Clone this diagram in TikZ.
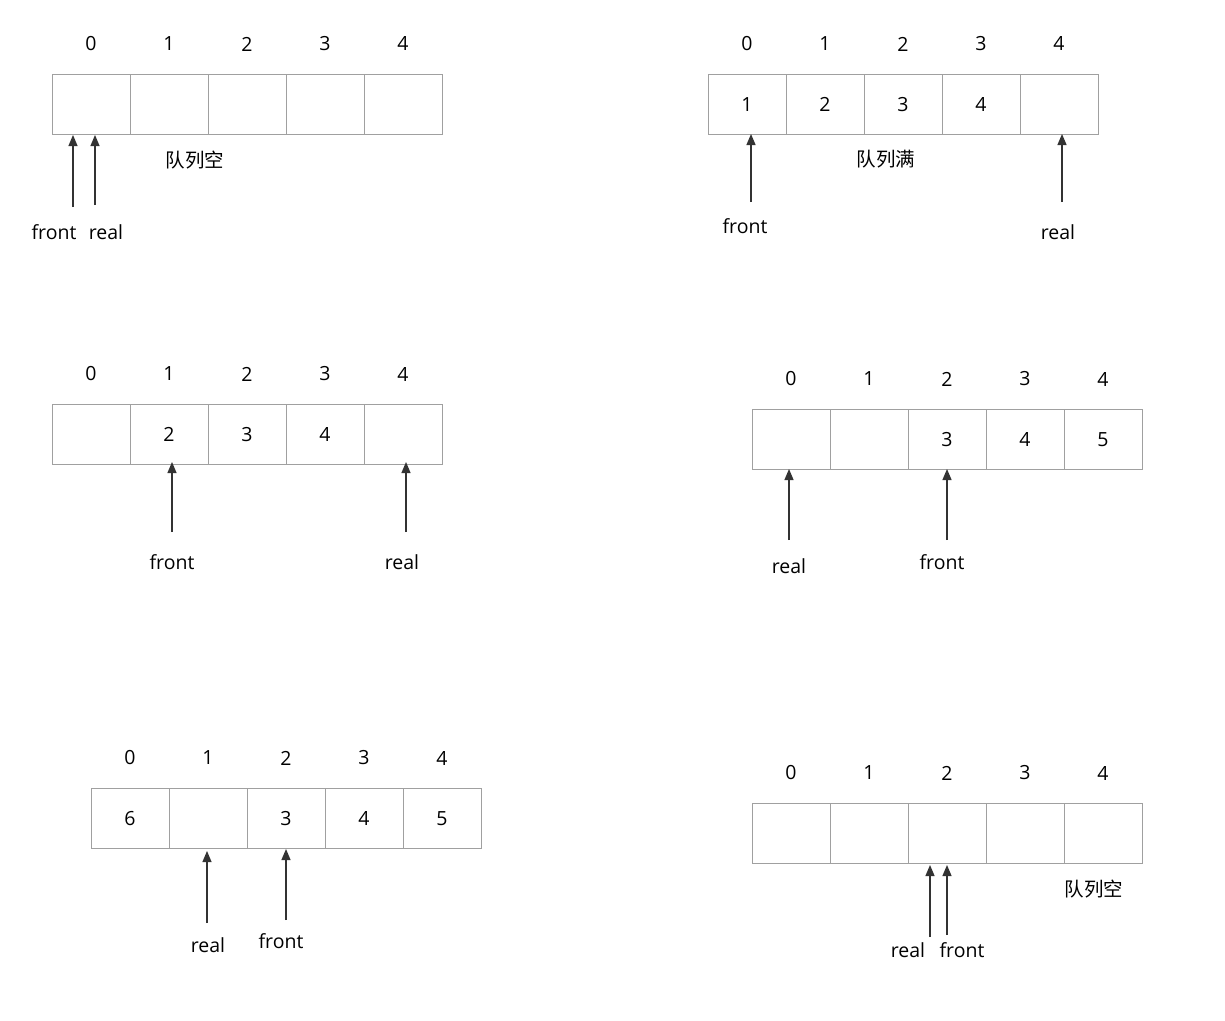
\documentclass[tikz,border=0pt]{standalone}
\usepackage{fontspec}
\setmainfont{Open Sans}
\newfontfamily\cjk{Noto Sans CJK SC}
\usetikzlibrary{arrows.meta}
\definecolor{cellgray}{HTML}{A0A0A0}
\definecolor{ink}{HTML}{333333}
\tikzset{
  cellbox/.style={draw=cellgray, line width=1.1pt, minimum width=78pt, minimum height=60pt, anchor=north west, inner sep=0pt, font=\fontsize{19.5}{22}\selectfont},
  idx/.style={font=\fontsize{19.5}{22}\selectfont, inner sep=0pt},
  lbl/.style={font=\fontsize{19.5}{22}\selectfont, inner sep=0pt},
  cn/.style={font=\cjk\fontsize{19.5}{22}\selectfont, inner sep=0pt},
  ptr/.style={draw=ink, line width=1.2pt, -{Triangle[length=11pt,width=9pt]}},
}
% #1 name prefix, #2 x0, #3 y0, #4 list of values
\newcommand{\qarray}[4]{%
  \foreach \v [count=\k from 0] in {#4} {
    \node[cellbox] (#1c\k) at ({#2-0.5+78*\k},#3) {\v};
    \node[idx] (#1i\k) at ({#2+39+78*\k},{#3-30}) {\k};
  }%
}
\begin{document}
\begin{tikzpicture}[x=1pt,y=-1pt]
\useasboundingbox (0,0) rectangle (1225,1020);
% Array 1
\qarray{a}{52}{74}{{},{},{},{},{}}
\coordinate (af0) at (73,207); \coordinate (af1) at (73,135);
\coordinate (ar0) at (95,205); \coordinate (ar1) at (95,135);
\draw[ptr] (af0) -- (af1);
\draw[ptr] (ar0) -- (ar1);
\node[lbl] (afl) at (54,232) {front};
\node[lbl] (arl) at (106,232) {real};
\node[cn] (at) at (195,160) {队列空};
% Array 2
\qarray{b}{708}{74}{1,2,3,4,{}}
\coordinate (bf0) at (751,202); \coordinate (bf1) at (751,134);
\coordinate (br0) at (1062,202); \coordinate (br1) at (1062,134);
\draw[ptr] (bf0) -- (bf1);
\draw[ptr] (br0) -- (br1);
\node[lbl] (bfl) at (745,226) {front};
\node[lbl] (brl) at (1058,232) {real};
\node[cn] (bt) at (886,159) {队列满};
% Array 3
\qarray{c}{52}{404}{{},2,3,4,{}}
\coordinate (cf0) at (172,532); \coordinate (cf1) at (172,462);
\coordinate (cr0) at (406,532); \coordinate (cr1) at (406,462);
\draw[ptr] (cf0) -- (cf1);
\draw[ptr] (cr0) -- (cr1);
\node[lbl] (cfl) at (172,562) {front};
\node[lbl] (crl) at (402,562) {real};
% Array 4
\qarray{d}{752}{409}{{},{},3,4,5}
\coordinate (dr0) at (789,540); \coordinate (dr1) at (789,469);
\coordinate (df0) at (947,540); \coordinate (df1) at (947,469);
\draw[ptr] (dr0) -- (dr1);
\draw[ptr] (df0) -- (df1);
\node[lbl] (drl) at (789,566) {real};
\node[lbl] (dfl) at (942,562) {front};
% Array 5
\qarray{e}{91}{788}{6,{},3,4,5}
\coordinate (er0) at (207,923); \coordinate (er1) at (207,851);
\coordinate (ef0) at (286,920); \coordinate (ef1) at (286,849);
\draw[ptr] (er0) -- (er1);
\draw[ptr] (ef0) -- (ef1);
\node[lbl] (erl) at (208,945) {real};
\node[lbl] (efl) at (281,941) {front};
% Array 6
\qarray{f}{752}{803}{{},{},{},{},{}}
\coordinate (fr0) at (930,937); \coordinate (fr1) at (930,865);
\coordinate (ff0) at (947,935); \coordinate (ff1) at (947,865);
\draw[ptr] (fr0) -- (fr1);
\draw[ptr] (ff0) -- (ff1);
\node[lbl] (frl) at (908,950) {real};
\node[lbl] (ffl) at (962,950) {front};
\node[cn] (ft) at (1094,889) {队列空};
\end{tikzpicture}
\end{document}
